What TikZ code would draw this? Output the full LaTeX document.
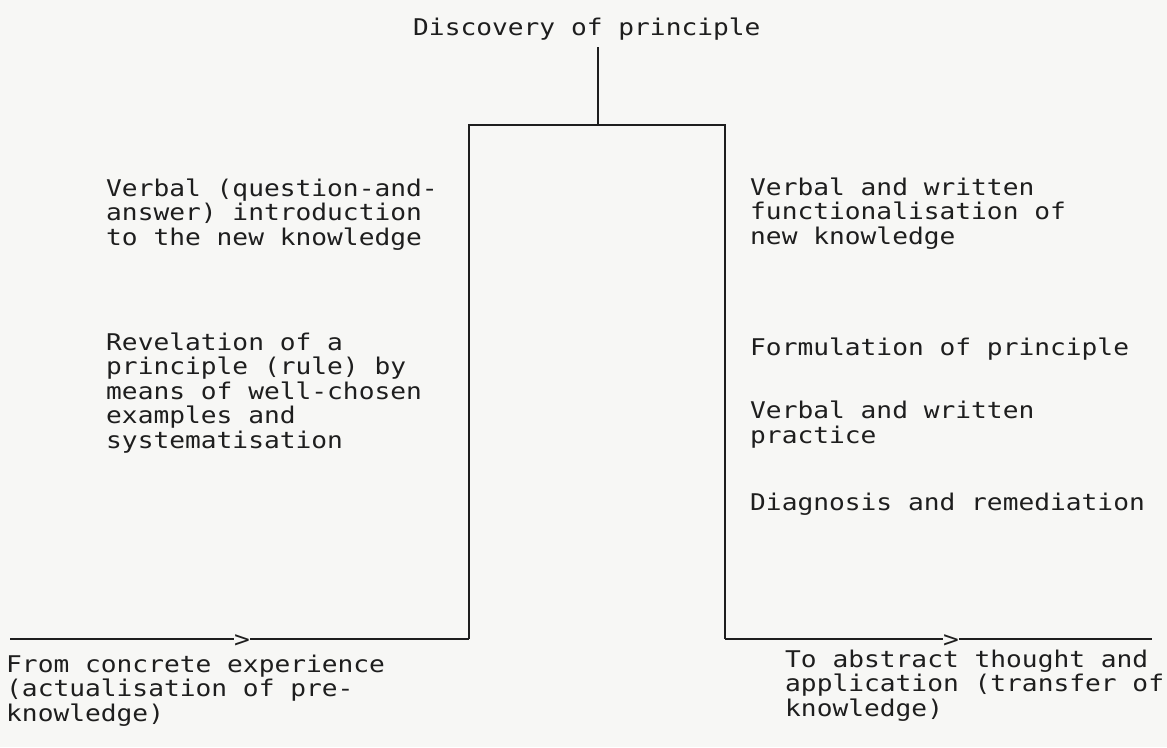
\documentclass[tikz,border=0pt]{standalone}
\usepackage{fontspec}
\newfontfamily\monof[FakeStretch=1.14]{DejaVu Sans Mono}
\definecolor{paper}{RGB}{247,247,245}
\definecolor{ink}{RGB}{30,30,30}
\begin{document}
\begin{tikzpicture}[x=1pt,y=1pt,
  txt/.style={inner sep=0pt, anchor=base west, align=left, text=ink,
    font=\monof\fontsize{23}{24.5}\selectfont},
  arrowmark/.style={inner sep=0pt, anchor=base, text=ink,
    font=\monof\fontsize{23}{24.5}\selectfont},
  conn/.style={draw=ink, line width=1.3pt}]
\fill[paper] (0,0) rectangle (1167,-747);
\useasboundingbox (0,0) rectangle (1167,-747);

% title
\node[txt] (title) at (413,-35) {Discovery of principle};

% box corners
\coordinate (top) at (598,-125);
\coordinate (tl) at (469,-125);
\coordinate (tr) at (725,-125);
\coordinate (bl) at (469,-639);
\coordinate (br) at (725,-639);
\coordinate (start) at (10,-639);
\coordinate (finish) at (1152,-639);
\coordinate (stem) at (598,-47);

% arrow marks
\node[arrowmark] (a1) at (242,-647) {>};
\node[arrowmark] (a2) at (951,-647) {>};

\draw[conn] (stem) -- (top);
\draw[conn] (bl) -- (tl) -- (tr) -- (br);
\draw[conn] (start) -- (start -| a1.west);
\draw[conn] (bl -| a1.east) -- (bl);
\draw[conn] (br) -- (br -| a2.west);
\draw[conn] (finish -| a2.east) -- (finish);

% left texts (anchor = baseline of last line)
\node[txt] (l1) at (106,-245) {Verbal (question-and-\\answer) introduction\\to the new knowledge};
\node[txt] (l2) at (106,-448) {Revelation of a\\principle (rule) by\\means of well-chosen\\examples and\\systematisation};

% right texts
\node[txt] (r1) at (750,-244) {Verbal and written\\functionalisation of\\new knowledge};
\node[txt] (r2) at (750,-355) {Formulation of principle};
\node[txt] (r3) at (750,-443) {Verbal and written\\practice};
\node[txt] (r4) at (750,-510) {Diagnosis and remediation};

% bottom texts
\node[txt] (b1) at (6,-721) {From concrete experience\\(actualisation of pre-\\knowledge)};
\node[txt] (b2) at (785,-716) {To abstract thought and\\application (transfer of\\knowledge)};
\end{tikzpicture}
\end{document}
